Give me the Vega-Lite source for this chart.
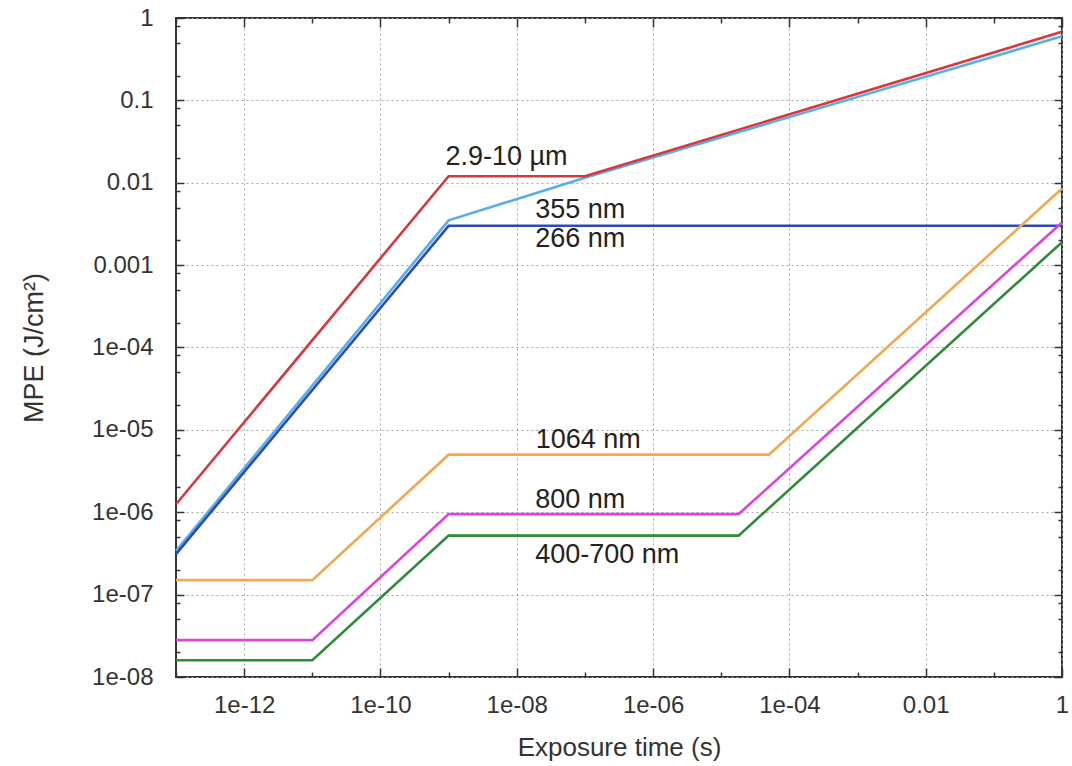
{
  "$schema": "https://vega.github.io/schema/vega-lite/v6.json",
  "autosize": "none",
  "width": 886,
  "height": 659,
  "padding": {"left": 176, "top": 18, "right": 10, "bottom": 89},
  "background": "white",
  "config": {
    "view": {"stroke": "#333333", "strokeWidth": 2},
    "axis": {"labelFont": "Liberation Sans", "titleFont": "Liberation Sans", "labelColor": "#333333", "titleColor": "#333333", "titleFontWeight": "normal"}
  },
  "datasets": {
    "curves": [
      {"series": "355 nm", "t": 1e-13, "mpe": 3.4e-7},
      {"series": "355 nm", "t": 1e-9, "mpe": 0.0035},
      {"series": "355 nm", "t": 1e-7, "mpe": 0.0115},
      {"series": "355 nm", "t": 1, "mpe": 0.6},
      {"series": "266 nm", "t": 1e-13, "mpe": 3.1e-7},
      {"series": "266 nm", "t": 1e-9, "mpe": 0.003},
      {"series": "266 nm", "t": 1, "mpe": 0.003},
      {"series": "2.9-10 µm", "t": 1e-13, "mpe": 1.25e-6},
      {"series": "2.9-10 µm", "t": 1e-9, "mpe": 0.012},
      {"series": "2.9-10 µm", "t": 1e-7, "mpe": 0.012},
      {"series": "2.9-10 µm", "t": 1, "mpe": 0.68},
      {"series": "1064 nm", "t": 1e-13, "mpe": 1.5e-7},
      {"series": "1064 nm", "t": 1e-11, "mpe": 1.5e-7},
      {"series": "1064 nm", "t": 1e-9, "mpe": 5e-6},
      {"series": "1064 nm", "t": 5e-5, "mpe": 5e-6},
      {"series": "1064 nm", "t": 1, "mpe": 0.0085},
      {"series": "800 nm", "t": 1e-13, "mpe": 2.8e-8},
      {"series": "800 nm", "t": 1e-11, "mpe": 2.8e-8},
      {"series": "800 nm", "t": 1e-9, "mpe": 9.5e-7},
      {"series": "800 nm", "t": 1.8e-5, "mpe": 9.5e-7},
      {"series": "800 nm", "t": 1, "mpe": 0.0033},
      {"series": "400-700 nm", "t": 1e-13, "mpe": 1.6e-8},
      {"series": "400-700 nm", "t": 1e-11, "mpe": 1.6e-8},
      {"series": "400-700 nm", "t": 1e-9, "mpe": 5.2e-7},
      {"series": "400-700 nm", "t": 1.8e-5, "mpe": 5.2e-7},
      {"series": "400-700 nm", "t": 1, "mpe": 0.0019}
    ],
    "labels": [
      {"label": "2.9-10 µm", "t": 9e-10, "mpe": 0.0162},
      {"label": "355 nm", "t": 1.86e-8, "mpe": 0.0037},
      {"label": "266 nm", "t": 1.86e-8, "mpe": 0.00165},
      {"label": "1064 nm", "t": 1.9e-8, "mpe": 6e-6},
      {"label": "800 nm", "t": 1.86e-8, "mpe": 1.12e-6},
      {"label": "400-700 nm", "t": 1.86e-8, "mpe": 2.4e-7}
    ]
  },
  "layer": [
    {
      "data": {"name": "curves"},
      "mark": {"type": "line", "strokeWidth": 2.6},
      "encoding": {
        "x": {
          "field": "t", "type": "quantitative",
          "scale": {"type": "log", "domain": [1e-13, 1], "nice": false},
          "axis": {
            "orient": "bottom",
            "values": [1e-13, 1e-12, 1e-11, 1e-10, 1e-9, 1e-8, 1e-7, 1e-6, 1e-5, 1e-4, 0.001, 0.01, 0.1, 1],
            "title": "Exposure time (s)",
            "titleFontSize": 26,
            "titleBaseline": "alphabetic",
            "titleY": 78,
            "labelExpr": "round(log(datum.value)/LN10)==-12?'1e-12':round(log(datum.value)/LN10)==-10?'1e-10':round(log(datum.value)/LN10)==-8?'1e-08':round(log(datum.value)/LN10)==-6?'1e-06':round(log(datum.value)/LN10)==-4?'1e-04':round(log(datum.value)/LN10)==-2?'0.01':round(log(datum.value)/LN10)==0?'1':''",
            "labelFontSize": 24,
            "labelPadding": 25,
            "labelFlush": false,
            "labelOverlap": false,
            "labelBaseline": "top",
            "domain": false,
            "ticks": true,
            "tickColor": "#333333",
            "tickWidth": 1.5,
            "tickSize": {"condition": {"test": "round(log(datum.value)/LN10) % 2 == 0", "value": -9}, "value": -5},
            "grid": true,
            "gridColor": "#a8a8a8",
            "gridDash": [2, 3],
            "gridWidth": 1,
            "gridOpacity": {"condition": {"test": "round(log(datum.value)/LN10) % 2 == 0", "value": 1}, "value": 0}
          }
        },
        "y": {
          "field": "mpe", "type": "quantitative",
          "scale": {"type": "log", "domain": [1e-8, 1], "nice": false},
          "axis": {
            "orient": "left",
            "values": [1e-8, 2e-8, 5e-8, 8e-8, 1e-7, 2e-7, 5e-7, 8e-7, 1e-6, 2e-6, 5e-6, 8e-6, 1e-5, 2e-5, 5e-5, 8e-5, 1e-4, 2e-4, 5e-4, 8e-4, 0.001, 0.002, 0.005, 0.008, 0.01, 0.02, 0.05, 0.08, 0.1, 0.2, 0.5, 0.8, 1],
            "title": "MPE (J/cm²)",
            "titleFontSize": 27,
            "titleBaseline": "alphabetic",
            "titleX": -134,
            "labelExpr": "abs(log(datum.value)/LN10-round(log(datum.value)/LN10))>0.01?'':round(log(datum.value)/LN10)==0?'1':round(log(datum.value)/LN10)==-1?'0.1':round(log(datum.value)/LN10)==-2?'0.01':round(log(datum.value)/LN10)==-3?'0.001':round(log(datum.value)/LN10)==-4?'1e-04':round(log(datum.value)/LN10)==-5?'1e-05':round(log(datum.value)/LN10)==-6?'1e-06':round(log(datum.value)/LN10)==-7?'1e-07':'1e-08'",
            "labelFontSize": 24,
            "labelPadding": 31,
            "labelFlush": false,
            "labelOverlap": false,
            "domain": false,
            "tickColor": "#333333",
            "tickWidth": 1.5,
            "tickSize": {"condition": {"test": "abs(log(datum.value)/LN10-round(log(datum.value)/LN10))<0.01", "value": -8}, "value": -4},
            "grid": true,
            "gridColor": "#a8a8a8",
            "gridDash": [2, 3],
            "gridWidth": 1,
            "gridOpacity": {"condition": {"test": "abs(log(datum.value)/LN10-round(log(datum.value)/LN10))<0.01", "value": 1}, "value": 0}
          }
        },
        "color": {
          "field": "series", "type": "nominal",
          "scale": {
            "domain": ["355 nm", "266 nm", "2.9-10 µm", "1064 nm", "800 nm", "400-700 nm"],
            "range": ["#55b0e8", "#2f48bc", "#d9363e", "#f2a84e", "#dd44dd", "#2e8b3a"]
          },
          "legend": null
        }
      }
    },
    {
      "data": {"name": "labels"},
      "mark": {"type": "text", "align": "left", "baseline": "alphabetic", "font": "Liberation Sans", "fontSize": 27, "color": "#222222"},
      "encoding": {
        "x": {"field": "t", "type": "quantitative", "scale": {"type": "log", "domain": [1e-13, 1], "nice": false}, "axis": null},
        "y": {"field": "mpe", "type": "quantitative", "scale": {"type": "log", "domain": [1e-8, 1], "nice": false}, "axis": null},
        "text": {"field": "label"}
      }
    },
    {
      "data": {"name": "curves"},
      "mark": {"type": "point", "opacity": 0},
      "encoding": {
        "x": {
          "field": "t", "type": "quantitative",
          "scale": {"type": "log", "domain": [1e-13, 1], "nice": false},
          "axis": {
            "orient": "top",
            "values": [1e-13, 1e-12, 1e-11, 1e-10, 1e-9, 1e-8, 1e-7, 1e-6, 1e-5, 1e-4, 0.001, 0.01, 0.1, 1],
            "title": null,
            "labels": false,
            "domain": false,
            "grid": false,
            "tickColor": "#333333",
            "tickWidth": 1.5,
            "tickSize": {"condition": {"test": "round(log(datum.value)/LN10) % 2 == 0", "value": -9}, "value": -5}
          }
        },
        "y": {
          "field": "mpe", "type": "quantitative",
          "scale": {"type": "log", "domain": [1e-8, 1], "nice": false},
          "axis": {
            "orient": "right",
            "values": [1e-8, 2e-8, 5e-8, 8e-8, 1e-7, 2e-7, 5e-7, 8e-7, 1e-6, 2e-6, 5e-6, 8e-6, 1e-5, 2e-5, 5e-5, 8e-5, 1e-4, 2e-4, 5e-4, 8e-4, 0.001, 0.002, 0.005, 0.008, 0.01, 0.02, 0.05, 0.08, 0.1, 0.2, 0.5, 0.8, 1],
            "title": null,
            "labels": false,
            "domain": false,
            "grid": false,
            "tickColor": "#333333",
            "tickWidth": 1.5,
            "tickSize": {"condition": {"test": "abs(log(datum.value)/LN10-round(log(datum.value)/LN10))<0.01", "value": -8}, "value": -4}
          }
        }
      }
    }
  ],
  "resolve": {"axis": {"x": "independent", "y": "independent"}}
}
